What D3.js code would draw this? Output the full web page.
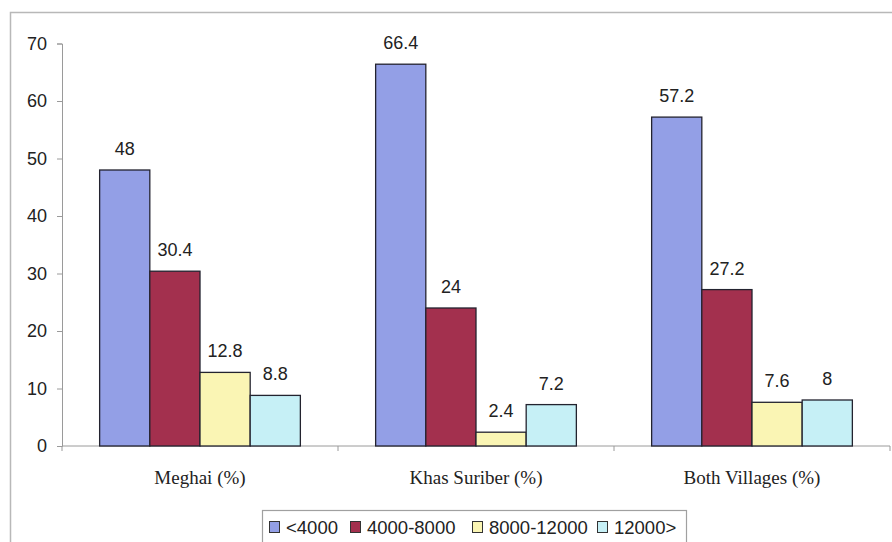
<!DOCTYPE html>
<html>
<head>
<meta charset="utf-8">
<script src="https://cdn.jsdelivr.net/npm/d3@7"></script>
<style>
  html, body { margin: 0; padding: 0; background: #fff; }
  svg { display: block; }
</style>
</head>
<body>
<svg id="chart" width="892" height="542"></svg>
<script>
// Income groups by village
const categories = ["Meghai (%)", "Khas Suriber (%)", "Both Villages (%)"];
const seriesNames = ["<4000", "4000-8000", "8000-12000", "12000>"];
const seriesColors = ["#939fe6", "#a3304e", "#faf5b4", "#c6f0f6"];
const values = [
  [48, 30.4, 12.8, 8.8],
  [66.4, 24, 2.4, 7.2],
  [57.2, 27.2, 7.6, 8]
];
const yTicks = [0, 10, 20, 30, 40, 50, 60, 70];

const svg = d3.select("#chart");
const sans = "'Liberation Sans', Arial, sans-serif";
const serif = "'Liberation Serif', 'Times New Roman', serif";

// chart area frame
svg.append("rect")
  .attr("x", 10.5).attr("y", 12.5)
  .attr("width", 900).attr("height", 560)
  .attr("fill", "#fff").attr("stroke", "#b8b8b8").attr("stroke-width", 1.5);

const plot = { left: 62, right: 890, top: 43.5, bottom: 446 };

const x0 = d3.scaleBand().domain(categories).range([plot.left, plot.right]).paddingInner(0).paddingOuter(0);
// each group: four bars plus a gap of one and a half bars
const bw = x0.bandwidth() / 5.5;
const x1 = d3.scaleBand().domain(seriesNames).range([0.75 * bw, 4.75 * bw]);
const y = d3.scaleLinear().domain([0, 70]).range([plot.bottom, plot.top]);

const axisColor = "#9a9a9a";

// y axis
const yAxis = svg.append("g")
  .attr("transform", `translate(${plot.left},0)`)
  .call(d3.axisLeft(y).tickValues(yTicks).tickSize(5).tickPadding(10).tickFormat(d3.format("d")));
yAxis.select(".domain").attr("stroke", axisColor);
yAxis.selectAll(".tick line").attr("stroke", axisColor);
yAxis.selectAll("text").attr("font-family", sans).attr("font-size", 18).attr("fill", "#222");

// x axis with ticks at category boundaries
const xAxisG = svg.append("g").attr("transform", `translate(0,${plot.bottom})`);
xAxisG.append("line")
  .attr("x1", plot.left).attr("x2", plot.right)
  .attr("stroke", axisColor);
const boundaries = categories.map(c => x0(c)).concat([x0(categories[categories.length - 1]) + x0.bandwidth()]);
xAxisG.selectAll("line.tk").data(boundaries).join("line")
  .attr("class", "tk")
  .attr("x1", d => d).attr("x2", d => d)
  .attr("y1", 0).attr("y2", 5)
  .attr("stroke", axisColor);
xAxisG.selectAll("text").data(categories).join("text")
  .attr("x", d => x0(d) + x0.bandwidth() / 2)
  .attr("y", 38)
  .attr("text-anchor", "middle")
  .attr("font-family", serif).attr("font-size", 19)
  .attr("fill", "#222")
  .text(d => d);

// bars
const groups = svg.append("g").selectAll("g").data(categories).join("g")
  .attr("transform", d => `translate(${x0(d)},0)`);

groups.each(function(cat, ci) {
  const g = d3.select(this);
  const rows = values[ci].map((v, si) => ({ v, name: seriesNames[si], si }));
  g.selectAll("rect").data(rows).join("rect")
    .attr("x", d => x1(d.name))
    .attr("y", d => y(d.v))
    .attr("width", x1.bandwidth())
    .attr("height", d => y(0) - y(d.v))
    .attr("fill", d => seriesColors[d.si])
    .attr("stroke", "#23232f")
    .attr("stroke-width", 1.3);
  g.selectAll("text").data(rows).join("text")
    .attr("x", d => x1(d.name) + x1.bandwidth() / 2)
    .attr("y", d => y(d.v) - 15)
    .attr("text-anchor", "middle")
    .attr("font-family", sans).attr("font-size", 18)
    .attr("fill", "#222")
    .text(d => d.v);
});

// legend
const legend = svg.append("g");
legend.append("rect")
  .attr("x", 262.5).attr("y", 510.5)
  .attr("width", 424).attr("height", 40)
  .attr("fill", "#fff").attr("stroke", "#a0a0a0").attr("stroke-width", 1.2);
const legendX = [269, 350, 472, 597];
seriesNames.forEach((name, i) => {
  legend.append("rect")
    .attr("x", legendX[i] + 0.5).attr("y", 521.5)
    .attr("width", 10).attr("height", 11)
    .attr("fill", seriesColors[i]).attr("stroke", "#333").attr("stroke-width", 1);
  legend.append("text")
    .attr("x", legendX[i] + 17).attr("y", 533.5)
    .attr("font-family", sans).attr("font-size", 18.5)
    .attr("fill", "#222")
    .text(name);
});
</script>
</body>
</html>
